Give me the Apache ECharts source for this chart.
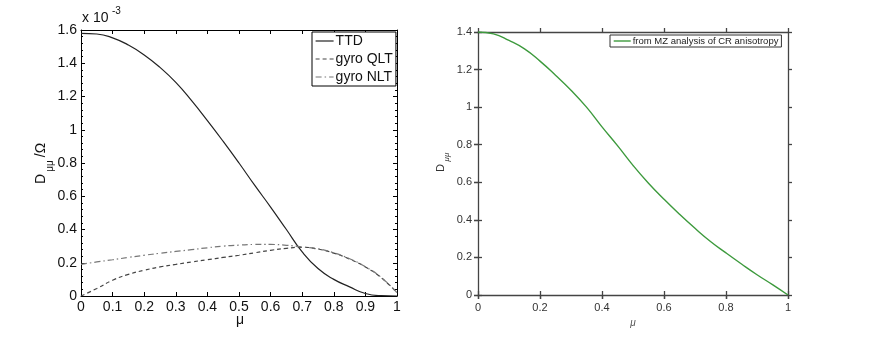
<!DOCTYPE html>
<html><head><meta charset="utf-8">
<script src="https://cdn.jsdelivr.net/npm/echarts@6/dist/echarts.min.js"></script>
<style>html,body{margin:0;padding:0;background:#fff}#c{width:870px;height:349px}</style>
</head><body><div id="c"></div>
<script>
// μ sample points (shared by all curves)
const mu = [0,0.05,0.1,0.15,0.2,0.25,0.3,0.35,0.4,0.45,0.5,0.55,0.6,0.65,0.7,0.75,0.8,0.85,0.9,0.95,1.0];
// Left panel, values in units of 1e-3
const ttd = [1.58,1.576,1.553,1.51,1.45,1.375,1.285,1.175,1.055,0.93,0.80,0.665,0.535,0.40,0.265,0.165,0.10,0.055,0.015,0.002,0];
const qlt = [0,0.045,0.095,0.13,0.155,0.175,0.19,0.205,0.218,0.232,0.245,0.26,0.275,0.287,0.293,0.282,0.258,0.222,0.175,0.11,0.02];
const nlt = [0.19,0.205,0.218,0.232,0.245,0.257,0.268,0.279,0.29,0.30,0.306,0.31,0.31,0.305,0.295,0.284,0.26,0.224,0.176,0.112,0.02];
// Right panel
const mz = [1.40,1.39,1.355,1.31,1.245,1.17,1.09,1.00,0.895,0.795,0.69,0.595,0.51,0.43,0.355,0.285,0.224,0.165,0.108,0.055,0];
const leftNames = ['TTD','gyro QLT','gyro NLT'];
const rightName = 'from MZ analysis of CR anisotropy';

const FONT = "'Liberation Sans', Arial, Helvetica, sans-serif";
const pair = (ys) => mu.map((m,i)=>[m, ys[i]]);

const chart = echarts.init(document.getElementById('c'), null, {renderer:'canvas'});

const blk = '#000';
const gr = '#444';

const option = {
  animation:false,
  backgroundColor:'#fff',
  textStyle:{fontFamily:FONT},
  grid:[
    {left:81, right:473, top:30, bottom:53, show:false},
    {left:478, right:82, top:32, bottom:54, show:false}
  ],
  xAxis:[
    {gridIndex:0, type:'value', min:0, max:1, interval:0.1, position:'bottom',
     axisLine:{lineStyle:{color:blk,width:1}}, axisTick:{inside:true,length:4,lineStyle:{color:blk}},
     splitLine:{show:false},
     axisLabel:{color:'#111',fontSize:14,margin:4,fontFamily:FONT}},
    {gridIndex:0, type:'value', min:0, max:1, interval:0.1, position:'top',
     axisLine:{onZero:false,lineStyle:{color:blk,width:1}}, axisTick:{inside:true,length:4,lineStyle:{color:blk}},
     splitLine:{show:false}, axisLabel:{show:false}},
    {gridIndex:1, type:'value', min:0, max:1, interval:0.2, position:'bottom',
     axisLine:{lineStyle:{color:gr,width:1.3}}, axisTick:{inside:false,length:4,lineStyle:{color:gr,width:1.3}},
     splitLine:{show:false}, axisLabel:{color:'#333',fontSize:11,margin:7,fontFamily:FONT}},
    {gridIndex:1, type:'value', min:0, max:1, interval:0.2, position:'bottom',
     axisLine:{show:false}, axisTick:{inside:true,length:4,lineStyle:{color:gr,width:1.3}},
     splitLine:{show:false}, axisLabel:{show:false}},
    {gridIndex:1, type:'value', min:0, max:1, interval:0.2, position:'top',
     axisLine:{onZero:false,lineStyle:{color:gr,width:1.3}}, axisTick:{inside:false,length:4,lineStyle:{color:gr,width:1.3}},
     splitLine:{show:false}, axisLabel:{show:false}},
    {gridIndex:1, type:'value', min:0, max:1, interval:0.2, position:'top',
     axisLine:{show:false}, axisTick:{inside:true,length:4,lineStyle:{color:gr,width:1.3}},
     splitLine:{show:false}, axisLabel:{show:false}}
  ],
  yAxis:[
    {gridIndex:0, type:'value', min:0, max:1.6, interval:0.2, position:'left',
     axisLine:{lineStyle:{color:blk,width:1}}, axisTick:{inside:true,length:4,lineStyle:{color:blk}},
     minorTick:{show:true,splitNumber:5,length:2,lineStyle:{color:blk}},
     splitLine:{show:false}, axisLabel:{color:'#111',fontSize:14,margin:4,fontFamily:FONT}},
    {gridIndex:0, type:'value', min:0, max:1.6, interval:0.2, position:'right',
     axisLine:{onZero:false,lineStyle:{color:blk,width:1}}, axisTick:{inside:true,length:4,lineStyle:{color:blk}},
     minorTick:{show:true,splitNumber:5,length:2,lineStyle:{color:blk}},
     splitLine:{show:false}, axisLabel:{show:false}},
    {gridIndex:1, type:'value', min:0, max:1.4, interval:0.2, position:'left',
     axisLine:{lineStyle:{color:gr,width:1.3}}, axisTick:{inside:false,length:4,lineStyle:{color:gr,width:1.3}},
     splitLine:{show:false}, axisLabel:{color:'#333',fontSize:11,margin:6,fontFamily:FONT}},
    {gridIndex:1, type:'value', min:0, max:1.4, interval:0.2, position:'left',
     axisLine:{show:false}, axisTick:{inside:true,length:4,lineStyle:{color:gr,width:1.3}},
     splitLine:{show:false}, axisLabel:{show:false}},
    {gridIndex:1, type:'value', min:0, max:1.4, interval:0.2, position:'right',
     axisLine:{onZero:false,lineStyle:{color:gr,width:1.3}}, axisTick:{inside:false,length:4,lineStyle:{color:gr,width:1.3}},
     splitLine:{show:false}, axisLabel:{show:false}},
    {gridIndex:1, type:'value', min:0, max:1.4, interval:0.2, position:'right',
     axisLine:{show:false}, axisTick:{inside:true,length:4,lineStyle:{color:gr,width:1.3}},
     splitLine:{show:false}, axisLabel:{show:false}}
  ],
  legend:[
    {data:leftNames, orient:'vertical', left:312, top:32, itemWidth:18, itemHeight:10, itemGap:4,
     padding:[2,3,2,3], borderColor:'#000', borderWidth:1, borderRadius:0, backgroundColor:'#fff',
     itemStyle:{opacity:0}, lineStyle:{width:1.2},
     textStyle:{fontSize:14,color:'#111',fontFamily:FONT,padding:[0,0,0,-3]}},
    {data:[rightName], orient:'horizontal', left:610, top:35, itemWidth:17, itemHeight:8,
     padding:[1,3,1,3], borderColor:'#333', borderWidth:1, borderRadius:0, backgroundColor:'#fff',
     itemStyle:{opacity:0}, lineStyle:{width:1.4},
     textStyle:{fontSize:9.5,color:'#222',fontFamily:FONT,padding:[0,0,0,-3]}}
  ],
  series:[
    {name:'TTD', type:'line', xAxisIndex:0, yAxisIndex:0, data:pair(ttd), symbol:'none', smooth:0.5,
     lineStyle:{color:'#222',width:1.2,type:'solid'}, itemStyle:{color:'#222'}, z:3},
    {name:'gyro QLT', type:'line', xAxisIndex:0, yAxisIndex:0, data:pair(qlt), symbol:'none', smooth:0.5,
     lineStyle:{color:'#444',width:1.2,type:[4,3]}, itemStyle:{color:'#444'}},
    {name:'gyro NLT', type:'line', xAxisIndex:0, yAxisIndex:0, data:pair(nlt), symbol:'none', smooth:0.5,
     lineStyle:{color:'#777',width:1.2,type:[6,3,1.5,3]}, itemStyle:{color:'#777'}},
    {name:rightName, type:'line', xAxisIndex:2, yAxisIndex:2, data:pair(mz), symbol:'none', smooth:0.5,
     lineStyle:{color:'#3d9a3d',width:1.4}, itemStyle:{color:'#3d9a3d'}}
  ],
  graphic:[
    {type:'text', x:82, y:11, style:{text:'x 10', font:'14px '+FONT, fill:'#111'}},
    {type:'text', x:112, y:6, style:{text:'-3', font:'10px '+FONT, fill:'#111'}},
    {type:'text', x:41, y:179, rotation:Math.PI/2, style:{text:'D', font:'14px '+FONT, fill:'#111', align:'center', verticalAlign:'middle'}},
    {type:'text', x:50, y:166, rotation:Math.PI/2, style:{text:'μμ', font:'10px '+FONT, fill:'#111', align:'center', verticalAlign:'middle'}},
    {type:'text', x:41, y:150, rotation:Math.PI/2, style:{text:'/Ω', font:'14px '+FONT, fill:'#111', align:'center', verticalAlign:'middle'}},
    {type:'text', x:240, y:320, style:{text:'μ', font:'14px '+FONT, fill:'#111', align:'center', verticalAlign:'middle'}},
    {type:'text', x:441, y:168, rotation:Math.PI/2, style:{text:'D', font:'11px '+FONT, fill:'#333', align:'center', verticalAlign:'middle'}},
    {type:'text', x:447, y:157, rotation:Math.PI/2, style:{text:'μμ', font:'italic 8px '+FONT, fill:'#333', align:'center', verticalAlign:'middle'}},
    {type:'text', x:633, y:323, style:{text:'μ', font:'italic 10px '+FONT, fill:'#555', align:'center', verticalAlign:'middle'}}
  ]
};
chart.setOption(option);
</script></body></html>
